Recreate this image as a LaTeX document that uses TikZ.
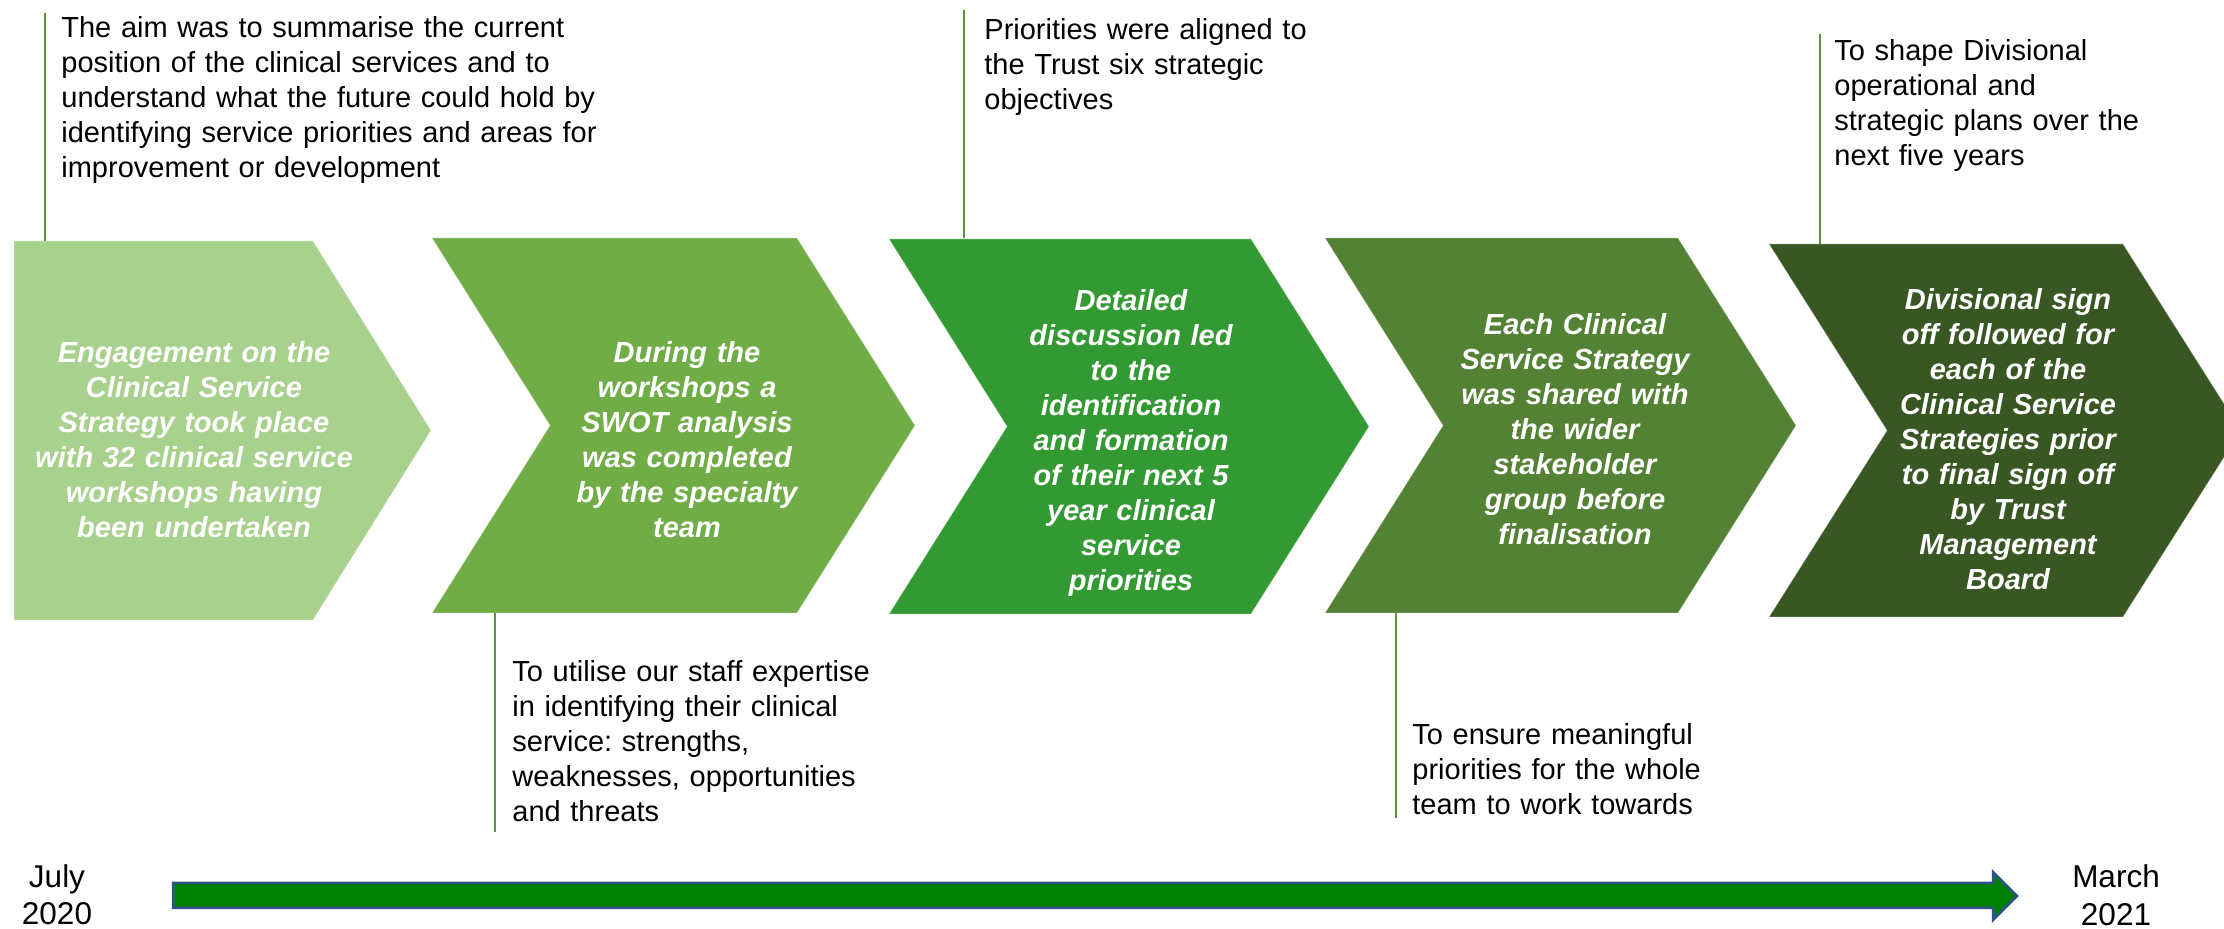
\documentclass[tikz,border=0pt]{standalone}
\usepackage{fontspec}
\setmainfont{Liberation Sans}
\frenchspacing
\definecolor{c1}{HTML}{A9D18E}
\definecolor{c2}{HTML}{70AD47}
\definecolor{c3}{HTML}{339933}
\definecolor{c4}{HTML}{548235}
\definecolor{c5}{HTML}{385723}
\definecolor{lnc}{HTML}{5E9341}
\definecolor{arrfill}{HTML}{008000}
\definecolor{arrdraw}{HTML}{2F528F}
\begin{document}
\begin{tikzpicture}[x=0.5pt,y=-0.5pt,
  stagetext/.style={text=white, font=\fontsize{14.5pt}{17.5pt}\selectfont\bfseries\itshape, align=center, text width=200pt, inner sep=0pt, anchor=base},
  note/.style={text=black, font=\fontsize{14.5pt}{17.5pt}\selectfont, align=left, text width=320pt, inner sep=0pt, anchor=base west},
  tick/.style={draw=lnc, line width=0.9pt},
  datetext/.style={text=black, font=\fontsize{15.75pt}{18.75pt}\selectfont, align=center, text width=80pt, inner sep=0pt, anchor=base},
  stageshape/.style={draw=white, draw opacity=0.35, line width=0.4pt},
  timeline/.style={fill=arrfill, draw=arrdraw, line width=1.25pt, line join=miter}
]
\useasboundingbox (0,0) rectangle (2224,929);
\clip (0,0) rectangle (2224,929);

% stage shapes
\path[stageshape, fill=c1] (14,241) -- (313,241) -- (431,430.5) -- (313,620) -- (14,620) -- cycle;
\path[stageshape, fill=c2] (432,238) -- (797,238) -- (915,425.5) -- (797,613) -- (432,613) -- (550,425.5) -- cycle;
\path[stageshape, fill=c3] (889,239) -- (1251,239) -- (1369,426.5) -- (1251,614) -- (889,614) -- (1007,426.5) -- cycle;
\path[stageshape, fill=c4] (1325,238) -- (1678,238) -- (1796,425.5) -- (1678,613) -- (1325,613) -- (1443,425.5) -- cycle;
\path[stageshape, fill=c5] (1769,244) -- (2123,244) -- (2241,430.5) -- (2123,617) -- (1769,617) -- (1887,430.5) -- cycle;

% stage texts
\node[stagetext] (s1) at (194,362.5) {Engagement on the\\Clinical Service\\Strategy took place\\with 32 clinical service\\workshops having\\been undertaken};
\node[stagetext] (s2) at (687,362.5) {During the\\workshops a\\SWOT analysis\\was completed\\by the specialty\\team};
\node[stagetext] (s3) at (1131,310.5) {Detailed\\discussion led\\to the\\identification\\and formation\\of their next 5\\year clinical\\service\\priorities};
\node[stagetext] (s4) at (1575,334.5) {Each Clinical\\Service Strategy\\was shared with\\the wider\\stakeholder\\group before\\finalisation};
\node[stagetext] (s5) at (2008,309.5) {Divisional sign\\off followed for\\each of the\\Clinical Service\\Strategies prior\\to final sign off\\by Trust\\Management\\Board};

% annotation texts
\node[note] (n1) at (61,38) {The aim was to summarise the current\\position of the clinical services and to\\understand what the future could hold by\\identifying service priorities and areas for\\improvement or development};
\node[note] (n2) at (512,681.5) {To utilise our staff expertise\\in identifying their clinical\\service: strengths,\\weaknesses, opportunities\\and threats};
\node[note] (n3) at (984,40) {Priorities were aligned to\\the Trust six strategic\\objectives};
\node[note] (n4) at (1412,744.5) {To ensure meaningful\\priorities for the whole\\team to work towards};
\node[note] (n5) at (1834,60.5) {To shape Divisional\\operational and\\strategic plans over the\\next five years};

% connector ticks
\coordinate (t1a) at (45,13);   \coordinate (t1b) at (45,241);
\coordinate (t2a) at (495,613); \coordinate (t2b) at (495,832);
\coordinate (t3a) at (964,10);  \coordinate (t3b) at (964,238);
\coordinate (t4a) at (1396,613);\coordinate (t4b) at (1396,818);
\coordinate (t5a) at (1820,34); \coordinate (t5b) at (1820,244);
\draw[tick] (t1a) -- (t1b);
\draw[tick] (t2a) -- (t2b);
\draw[tick] (t3a) -- (t3b);
\draw[tick] (t4a) -- (t4b);
\draw[tick] (t5a) -- (t5b);

% timeline arrow
\path[timeline] (173,883) -- (1993,883) -- (1993,872) -- (2017,896) -- (1993,920) -- (1993,908) -- (173,908) -- cycle;

% dates
\node[datetext] (d1) at (57,887.5) {July\\2020};
\node[datetext] (d2) at (2116,888) {March\\2021};
\end{tikzpicture}
\end{document}
